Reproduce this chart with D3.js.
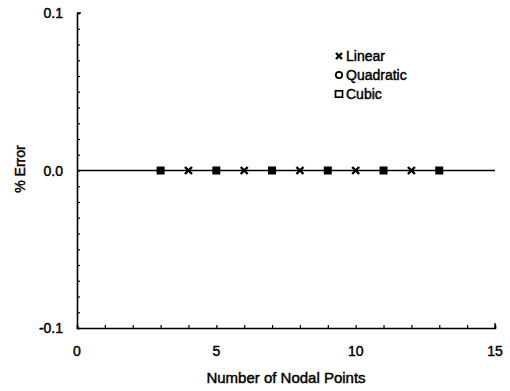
<!DOCTYPE html>
<html>
<head>
<meta charset="utf-8">
<script src="https://cdn.jsdelivr.net/npm/d3@7"></script>
<style>
    body { margin: 0; background: #fff; }
    text { font-family: "Liberation Sans", Arial, sans-serif; fill: #000; stroke: #000; stroke-width: 0.45; }
</style>
</head>
<body>
<svg id="chart" width="510" height="391"></svg>
<script>
    // data (all errors sit on the zero line)
    var linearX = [4, 6, 8, 10, 12];
    var linearY = [0, 0, 0, 0, 0];
    var quadX = [3, 5, 7, 9, 11, 13];
    var quadY = [0, 0, 0, 0, 0, 0];
    var cubicX = [3, 5, 7, 9, 11, 13];
    var cubicY = [0, 0, 0, 0, 0, 0];
    var xTickLabels = [0, 5, 10, 15];
    var yTickLabels = ["-0.1", "0.0", "0.1"];
    var legendNames = ["Linear", "Quadratic", "Cubic"];

    var svg = d3.select("#chart");
    var x = d3.scaleLinear().domain([0, 15]).range([77, 495]);
    var y = d3.scaleLinear().domain([-0.1, 0.1]).range([328, 13]);

    // axes with small inward ticks
    var yAxis = d3.axisRight(y).tickValues(d3.range(-10, 11).map(function (d) { return d / 100; }))
        .tickSize(3).tickFormat("");
    var gy = svg.append("g").attr("transform", "translate(" + x(0) + ",0)").call(yAxis);
    var xAxis = d3.axisTop(x).tickValues(d3.range(0, 16)).tickSize(3).tickFormat("");
    var gx = svg.append("g").attr("transform", "translate(0," + y(-0.1) + ")").call(xAxis);
    [gy, gx].forEach(function (g) {
        g.select(".domain").attr("stroke", "#000").attr("stroke-width", 1.6);
        g.selectAll(".tick line").attr("stroke", "#000").attr("stroke-width", 1.2);
    });
    svg.append("line").attr("x1", x(0)).attr("x2", x(0) + 4)
        .attr("y1", y(0.1)).attr("y2", y(0.1)).attr("stroke", "#000").attr("stroke-width", 1.4);
    svg.append("line").attr("x1", x(15)).attr("x2", x(15))
        .attr("y1", y(-0.1)).attr("y2", y(-0.1) - 5).attr("stroke", "#000").attr("stroke-width", 1.4);

    // tick labels
    svg.selectAll(".ylab").data(yTickLabels).enter().append("text")
        .attr("x", 63).attr("y", function (d) { return y(+d) + 5; })
        .attr("text-anchor", "end").style("font-size", "14px")
        .text(function (d) { return d; });
    svg.selectAll(".xlab").data(xTickLabels).enter().append("text")
        .attr("x", function (d) { return x(d); }).attr("y", 356)
        .attr("text-anchor", "middle").style("font-size", "14px")
        .text(function (d) { return d; });

    // axis titles
    svg.append("text").attr("x", 286).attr("y", 383).attr("text-anchor", "middle")
        .style("font-size", "15px").text("Number of Nodal Points");
    svg.append("text").attr("transform", "translate(25,169) rotate(-90)")
        .attr("text-anchor", "middle").style("font-size", "14px").text("% Error");

    // zero line
    svg.append("line").attr("x1", x(0)).attr("x2", x(15))
        .attr("y1", y(0)).attr("y2", y(0)).attr("stroke", "#000").attr("stroke-width", 1.4);

    function cross(g, cx, cy, r) {
        g.append("path").attr("d", "M" + (cx - r) + "," + (cy - r) + "L" + (cx + r) + "," + (cy + r) +
            "M" + (cx - r) + "," + (cy + r) + "L" + (cx + r) + "," + (cy - r))
            .attr("stroke", "#000").attr("stroke-width", 2.4).attr("fill", "none");
    }

    var marks = svg.append("g");
    quadX.forEach(function (d, i) {
        marks.append("circle").attr("cx", x(d)).attr("cy", y(quadY[i])).attr("r", 3.5).attr("fill", "#000");
    });
    cubicX.forEach(function (d, i) {
        marks.append("rect").attr("x", x(d) - 4).attr("y", y(cubicY[i]) - 4)
            .attr("width", 8).attr("height", 8).attr("fill", "#000");
    });
    linearX.forEach(function (d, i) { cross(marks, x(d), y(linearY[i]), 3.5); });

    // legend
    var leg = svg.append("g");
    var legY = [56, 75, 94];
    cross(leg, 339, legY[0], 3);
    leg.append("circle").attr("cx", 339).attr("cy", legY[1]).attr("r", 3.2)
        .attr("fill", "none").attr("stroke", "#000").attr("stroke-width", 1.7);
    leg.append("rect").attr("x", 335.5).attr("y", legY[2] - 3.2).attr("width", 7).attr("height", 6.4)
        .attr("fill", "none").attr("stroke", "#000").attr("stroke-width", 1.7);
    leg.selectAll("text").data(legendNames).enter().append("text")
        .attr("x", 346).attr("y", function (d, i) { return legY[i] + 5; })
        .style("font-size", "14px").text(function (d) { return d; });
</script>
</body>
</html>
